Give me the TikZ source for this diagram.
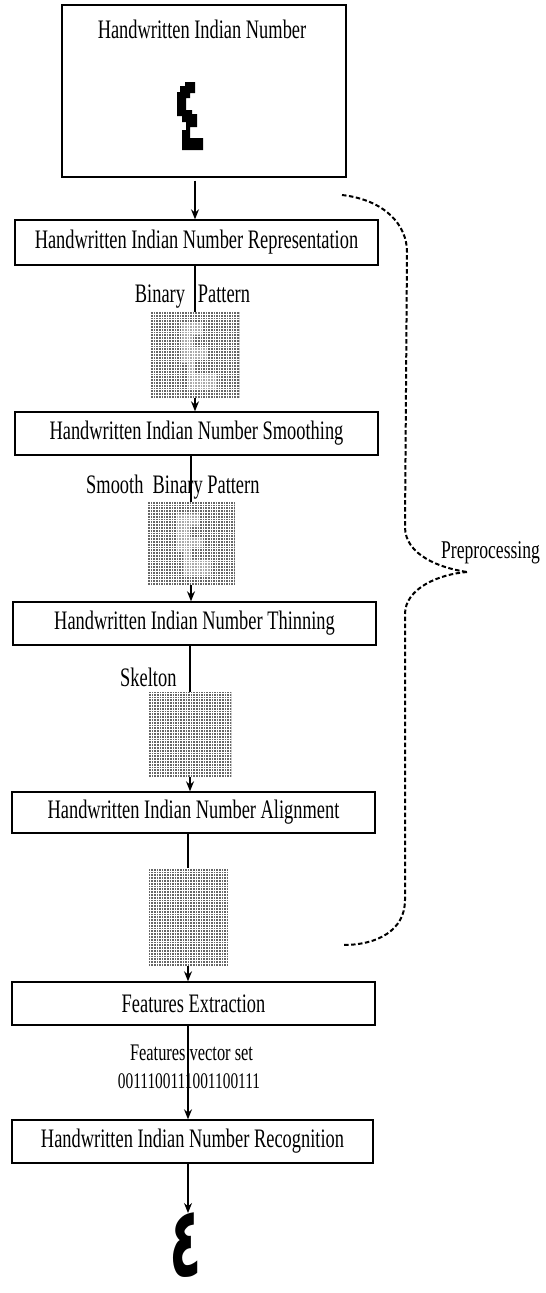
\documentclass[tikz,border=0pt]{standalone}
\usepackage{fontspec}
\usepackage{graphicx}
\usetikzlibrary{arrows.meta}
\setmainfont{Liberation Serif}
\newfontfamily\arabicfont[Script=Arabic]{DejaVu Sans}
\TeXXeTstate=1
\newcommand{\vtall}[1]{\scalebox{1}[1.45]{#1}}
\begin{document}
\begin{tikzpicture}[x=1pt, y=-1pt, >={Stealth[length=10pt, width=8pt]}, font=\fontsize{18.4}{20}\selectfont,
  stepbox/.style={draw, line width=1.4pt, rectangle, minimum width=363pt, minimum height=43pt, inner sep=0pt, align=center},
  bits/.style={fill=black!60, inner sep=0pt, path picture={
    \foreach \k in {0,2.6,...,100} \draw[white, line width=0.5pt] ([xshift=\k pt]path picture bounding box.south west) -- ([xshift=\k pt]path picture bounding box.north west);
    \foreach \k in {0,2.8,...,100} \draw[white, line width=0.35pt] ([yshift=\k pt]path picture bounding box.south west) -- ([yshift=\k pt]path picture bounding box.south east);
  }},
  ghost/.style={fill=white, opacity=0.45},
  conn/.style={line width=1.2pt},
  brace/.style={line width=2pt, dash pattern=on 4.5pt off 2.5pt}]
  \useasboundingbox[fill=white] (0,0) rectangle (546,1293);
  % input image
  \node[stepbox, minimum width=284pt, minimum height=172pt] at (204,91) (in) {};
  \node at (202,29) (intitle) {\vtall{Handwritten Indian Number}};
  \fill (180,86) -- (185,86) -- (185,82) -- (195,82) -- (195,93) -- (190,93) -- (190,98) -- (186,98) -- (186,110) -- (192,110) -- (192,114) -- (197,114) -- (197,127) -- (190,127) -- (190,138) -- (203,138) -- (203,150) -- (182,150) -- (182,130) -- (186,130) -- (186,122) -- (182,122) -- (182,116) -- (177,116) -- (177,92) -- (180,92) -- cycle;
  % processing steps
  \node[stepbox, minimum height=45pt] at (196.5,242.5) (rep) {\vtall{Handwritten Indian Number Representation}};
  \node[bits, minimum width=89pt, minimum height=86pt] at (195,355) (bin) {};
  \node[stepbox] at (196.5,433.5) (smo) {\vtall{Handwritten Indian Number Smoothing}};
  \node[bits, minimum width=87pt, minimum height=83pt] at (191,543.5) (sbin) {};
  \node[stepbox] at (194.5,623.5) (thi) {\vtall{Handwritten Indian Number Thinning}};
  \node[bits, minimum width=83pt, minimum height=85pt] at (190,734.5) (skel) {};
  \node[stepbox, minimum height=41pt] at (193.5,812.5) (ali) {\vtall{Handwritten Indian Number Alignment}};
  \node[bits, minimum width=80pt, minimum height=98pt] at (188,917) (alig) {};
  \node[stepbox] at (193.5,1003.5) (fea) {\vtall{Features Extraction}};
  \node[stepbox, minimum width=361pt] at (192.5,1141.5) (rec) {\vtall{Handwritten Indian Number Recognition}};
  \node[anchor=north, inner sep=0pt, font=\fontsize{76}{76}\selectfont\bfseries] at (186,1213) (out) {\raisebox{0pt}[\height][0pt]{\scalebox{0.7}[1.3]{\arabicfont\beginR ٤\endR}}};
  % faint digit in the patterns
  \begin{scope}[shift={(bin.center)}]
    \fill[ghost] (-14,-33) -- (8,-33) -- (8,-20) -- (-2,-20) -- (-2,-8) -- (12,-8) -- (12,4) -- (0,4) -- (0,18) -- (22,18) -- (22,35) -- (-8,35) -- (-8,8) -- (-14,8) -- cycle;
  \end{scope}
  \begin{scope}[shift={(sbin.center)}]
    \fill[ghost] (-14,-30) -- (8,-30) -- (8,-18) -- (-2,-18) -- (-2,-6) -- (12,-6) -- (12,4) -- (0,4) -- (0,16) -- (20,16) -- (20,32) -- (-8,32) -- (-8,8) -- (-14,8) -- cycle;
  \end{scope}
  % labels
  \node at (192.5,297) (binlbl) {\vtall{Binary\hspace{0.7em}Pattern}};
  \node[anchor=east] at (263,487) (sbinlbl) {\vtall{Smooth\ \ Binary Pattern}};
  \node[anchor=east] at (180,677) (skellbl) {\vtall{Skelton}};
  \node[font=\fontsize{16.4}{18}\selectfont] at (191.5,1053) (veclbl) {\vtall{Features vector set}};
  \node[font=\fontsize{15.4}{17}\selectfont] at (189,1081) (bitslbl) {\vtall{0011100111001100111}};
  \node[anchor=west, inner sep=1pt, font=\fontsize{17.6}{20}\selectfont] at (440,553) (pre) {\vtall{Preprocessing}};
  % connectors
  \draw[conn, ->] ([yshift=-3pt]in.south -| bin) -- (rep.north -| bin);
  \draw[conn] (rep.south -| bin) -- (bin.north);
  \draw[conn, ->] (bin.south) -- (smo.north -| bin);
  \draw[conn] (smo.south -| sbin) -- (sbin.north);
  \draw[conn, ->] (sbin.south) -- (thi.north -| sbin);
  \draw[conn] (thi.south -| skel) -- (skel.north);
  \draw[conn, ->] (skel.south) -- (ali.north -| skel);
  \draw[conn] (ali.south -| alig) -- (alig.north);
  \draw[conn, ->] (alig.south) -- (fea.north -| alig);
  \draw[conn, ->] (fea.south -| alig) -- (rec.north -| alig);
  \draw[conn, ->] (rec.south -| alig) -- (out.north -| alig);
  % preprocessing brace
  \coordinate (pretop) at (342,195);
  \coordinate (pretip) at (467,572);
  \coordinate (prebot) at (343,945);
  \draw[brace] (pretop) .. controls (385,200) and (407,225) .. (407,252) -- (405,527) .. controls (405,555) and (440,568) .. (pretip);
  \draw[brace] (pretip) .. controls (440,574) and (405,588) .. (405,614) -- (405,900) .. controls (405,930) and (378,945) .. (prebot);
\end{tikzpicture}
\end{document}
